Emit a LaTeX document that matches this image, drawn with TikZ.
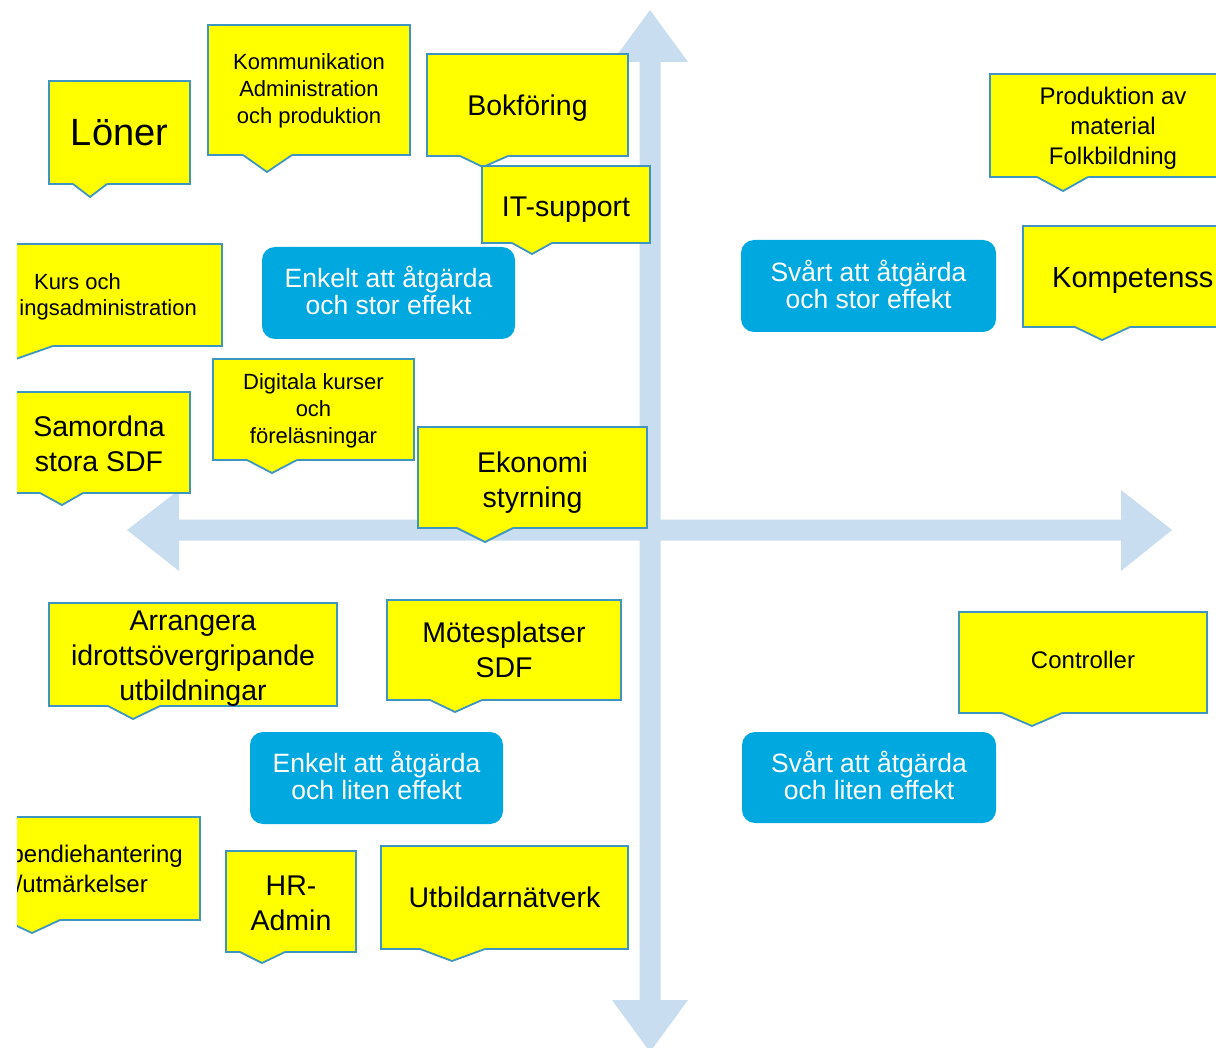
\documentclass[tikz,border=0pt]{standalone}
\usepackage{fontspec}
\setmainfont{Liberation Sans}
\usetikzlibrary{calc}
\definecolor{arrowC}{RGB}{200,221,240}
\definecolor{bordC}{RGB}{62,150,192}
\definecolor{blueC}{RGB}{0,168,224}
\definecolor{yelC}{RGB}{255,255,0}
\tikzset{
  ybox/.style={draw=bordC, line width=1.8pt, fill=yelC, outer sep=0pt, inner sep=0pt},
  bbox/.style={fill=blueC, rounded corners=13pt, outer sep=0pt, inner sep=0pt},
  ytxt/.style={align=center, inner sep=0pt, text=black},
  btxt/.style={align=center, inner sep=0pt, text=white, font=\fontsize{26.5}{27}\selectfont},
  bord/.style={draw=bordC, line width=1.8pt, line join=miter},
  fA/.style={font=\fontsize{22}{27}\selectfont},
  fB/.style={font=\fontsize{24}{30}\selectfont},
  fC/.style={font=\fontsize{28.5}{35}\selectfont},
  fD/.style={font=\fontsize{38}{46}\selectfont},
  fK/.style={font=\fontsize{29}{35}\selectfont},
}
% pointer under a callout box: node, left x, right x, tip
\newcommand\calloutptr[4]{%
  \fill[yelC] let \p1=(#1.south) in (#2pt,\y1+1.3pt) -- (#2pt,\y1) -- #4 -- (#3pt,\y1) -- (#3pt,\y1+1.3pt) -- cycle;
  \draw[bord] let \p1=(#1.south) in (#2pt,\y1) -- #4 -- (#3pt,\y1);
}
\begin{document}
\begin{tikzpicture}[x=1pt,y=-1pt]
\useasboundingbox (0,0) rectangle (1216,1048);
\fill[white] (0,0) rectangle (1216,1048);
\begin{scope}
\clip (17,0) rectangle (1216,1048);
% cross of arrows
\fill[arrowC] (650,10) -- (688,62) -- (660.5,62) -- (660.5,1000) -- (688,1000) -- (650,1052)
  -- (612,1000) -- (639.5,1000) -- (639.5,62) -- (612,62) -- cycle;
\fill[arrowC] (127,530) -- (179,490) -- (179,519.5) -- (1121,519.5) -- (1121,490) -- (1172,530)
  -- (1121,571) -- (1121,540.5) -- (179,540.5) -- (179,571) -- cycle;

% blue quadrant labels
\node[bbox, minimum width=253pt, minimum height=92pt] (b1) at (388.5,293) {};
\node[btxt, yshift=3pt] (b1t) at (b1) {Enkelt att åtgärda\\och stor effekt};
\node[bbox, minimum width=255pt, minimum height=92pt] (b2) at (868.5,286) {};
\node[btxt, yshift=2pt] (b2t) at (b2) {Svårt att åtgärda\\och stor effekt};
\node[bbox, minimum width=253pt, minimum height=92pt] (b3) at (376.5,778) {};
\node[btxt, yshift=2.5pt] (b3t) at (b3) {Enkelt att åtgärda\\och liten effekt};
\node[bbox, minimum width=254pt, minimum height=91pt] (b4) at (869,777.5) {};
\node[btxt, yshift=2pt] (b4t) at (b4) {Svårt att åtgärda\\och liten effekt};

% yellow callouts
\node[ybox, minimum width=141pt, minimum height=103pt] (lon) at (119.5,132.5) {};
\calloutptr{lon}{73}{107}{(90,197)}
\node[ytxt, fD] (lont) at (lon) {Löner};

\node[ybox, minimum width=202pt, minimum height=130pt] (kom) at (309,90) {};
\calloutptr{kom}{243}{292}{(267,172)}
\node[ytxt, fA, yshift=-1pt] (komt) at (kom) {Kommunikation\\Administration\\och produktion};

\node[ybox, minimum width=201pt, minimum height=102pt] (bok) at (527.5,105) {};
\calloutptr{bok}{460}{508}{(483,167)}
\node[ytxt, fC, yshift=-3pt] (bokt) at (bok) {Bokföring};

\node[ybox, minimum width=168pt, minimum height=77pt] (its) at (566,204.5) {};
\calloutptr{its}{512}{552}{(532,254)}
\node[ytxt, fC, yshift=-5.5pt] (itst) at (its) {IT-support};

\node[ybox, minimum width=246pt, minimum height=103pt] (pro) at (1113,125.5) {};
\calloutptr{pro}{1037}{1088}{(1063,191)}
\node[ytxt, fB, yshift=-3pt] (prot) at (pro) {Produktion av\\material\\Folkbildning};

\node[ybox, minimum width=217pt, minimum height=101pt] (kmp) at (1131.5,276.5) {};
\calloutptr{kmp}{1075}{1130}{(1102,340)}
\node[ytxt, fK, anchor=west] (kmpt) at (1052,281) {Kompetenss};

\node[ybox, minimum width=289pt, minimum height=102pt] (kur) at (77.5,295) {};
\calloutptr{kur}{-30}{53}{(10,361)}
\node[ytxt, fA, anchor=base] (kur1) at (77.5,290) {Kurs och};
\node[ytxt, fA, anchor=base east] (kur2) at (197,316) {ingsadministration};

\node[ybox, minimum width=182pt, minimum height=101pt] (sam) at (99,442.5) {};
\calloutptr{sam}{40}{83}{(62,505)}
\node[ytxt, fC, yshift=-1pt] (samt) at (sam) {Samordna\\stora SDF};

\node[ybox, minimum width=201pt, minimum height=101pt] (dig) at (313.5,409.5) {};
\calloutptr{dig}{247}{297}{(272,473)}
\node[ytxt, fA, yshift=-1pt] (digt) at (dig) {Digitala kurser\\och\\föreläsningar};

\node[ybox, minimum width=229pt, minimum height=101pt] (eko) at (532.5,477.5) {};
\calloutptr{eko}{457}{513}{(485,542)}
\node[ytxt, fC, yshift=-5pt] (ekot) at (eko) {Ekonomi\\styrning};

\node[ybox, minimum width=288pt, minimum height=103pt] (arr) at (193,654.5) {};
\calloutptr{arr}{108}{160}{(133,719)}
\node[ytxt, fC, yshift=-4pt] (arrt) at (arr) {Arrangera\\idrottsövergripande\\utbildningar};

\node[ybox, minimum width=234pt, minimum height=100pt] (mot) at (504,650) {};
\calloutptr{mot}{430}{482}{(455,712)}
\node[ytxt, fC] (mott) at (mot) {Mötesplatser\\SDF};

\node[ybox, minimum width=248pt, minimum height=101pt] (con) at (1083,662.5) {};
\calloutptr{con}{1002}{1062}{(1032,726)}
\node[ytxt, fB, yshift=3pt] (cont) at (con) {Controller};

\node[ybox, minimum width=210pt, minimum height=103pt] (pen) at (95,868.5) {};
\calloutptr{pen}{4}{60}{(32,933)}
\node[ytxt, fB, anchor=base east] (pen1) at (183,862) {pendiehantering};
\node[ytxt, fB, anchor=base east] (pen2) at (148,892) {/utmärkelser};

\node[ybox, minimum width=130pt, minimum height=101pt] (hra) at (291,901.5) {};
\calloutptr{hra}{240}{285}{(262,963)}
\node[ytxt, fC, yshift=-1.5pt] (hrat) at (hra) {HR-\\Admin};

\node[ybox, minimum width=247pt, minimum height=103pt] (utb) at (504.5,897.5) {};
\calloutptr{utb}{420}{485}{(452,961)}
\node[ytxt, fC] (utbt) at (utb) {Utbildarnätverk};
\end{scope}
\end{tikzpicture}
\end{document}
